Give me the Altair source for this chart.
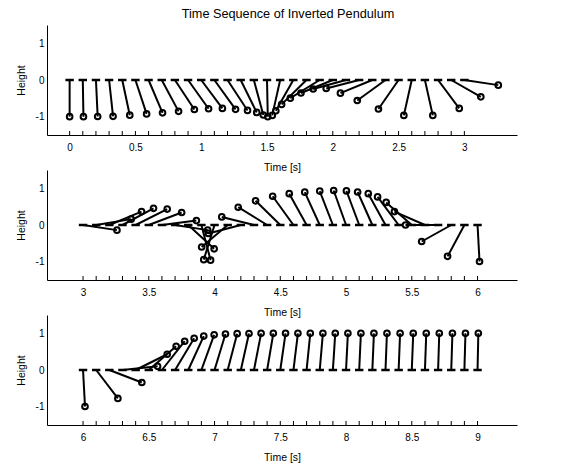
import altair as alt
import pandas as pd

# ---- data ----
# frame times (cart positions on the time axis)
t1 = [0.0, 0.1, 0.2, 0.3, 0.4, 0.5, 0.6, 0.7, 0.8, 0.9, 1.0, 1.1, 1.2, 1.3, 1.4, 1.5,
      1.6, 1.7, 1.8, 1.9, 2.0, 2.1, 2.2, 2.3, 2.4, 2.5, 2.6, 2.7, 2.8, 2.9, 3.0]
bx1 = [0.000, 0.105, 0.213, 0.330, 0.457, 0.585, 0.706, 0.828, 0.948, 1.056, 1.161,
       1.261, 1.352, 1.422, 1.472, 1.506, 1.540, 1.567, 1.611, 1.677, 1.758, 1.851,
       1.950, 2.058, 2.186, 2.347, 2.540, 2.760, 2.961, 3.125, 3.258]
by1 = [-1.0, -1.0, -0.995, -0.99, -0.96, -0.925, -0.895, -0.855, -0.805, -0.785,
       -0.775, -0.80, -0.83, -0.885, -0.955, -1.0, -0.965, -0.84, -0.665, -0.495,
       -0.355, -0.245, -0.23, -0.36, -0.56, -0.79, -0.965, -0.965, -0.775, -0.46, -0.14]

t2 = [3.0, 3.1, 3.2, 3.3, 3.4, 3.5, 3.6, 3.7, 3.8, 3.9, 4.0, 4.1, 4.2, 4.3, 4.4, 4.5,
      4.6, 4.7, 4.8, 4.9, 5.0, 5.1, 5.2, 5.3, 5.4, 5.5, 5.6, 5.7, 5.8, 5.9, 6.0]
bx2 = [3.258, 3.366, 3.445, 3.536, 3.640, 3.750, 3.862, 3.948, 3.997, 3.970, 3.918,
       3.902, 3.953, 4.055, 4.180, 4.312, 4.442, 4.568, 4.686, 4.800, 4.906, 5.003,
       5.088, 5.169, 5.240, 5.305, 5.368, 5.452, 5.575, 5.772, 6.015]
by2 = [-0.14, 0.16, 0.365, 0.455, 0.435, 0.34, 0.12, -0.14, -0.65, -0.96, -0.945,
       -0.60, -0.23, 0.22, 0.485, 0.66, 0.785, 0.855, 0.895, 0.925, 0.94, 0.93, 0.90,
       0.855, 0.765, 0.615, 0.365, 0.0, -0.45, -0.855, -0.995]

t3 = [6.0, 6.1, 6.2, 6.3, 6.4, 6.5, 6.6, 6.7, 6.8, 6.9, 7.0, 7.1, 7.2, 7.3, 7.4, 7.5,
      7.6, 7.7, 7.8, 7.9, 8.0, 8.1, 8.2, 8.3, 8.4, 8.5, 8.6, 8.7, 8.8, 8.9, 9.0]
bx3 = [6.015, 6.265, 6.447, 6.567, 6.640, 6.708, 6.773, 6.845, 6.918, 6.997, 7.083,
       7.172, 7.262, 7.354, 7.447, 7.540, 7.634, 7.728, 7.824, 7.918, 8.014, 8.113,
       8.212, 8.311, 8.411, 8.511, 8.610, 8.709, 8.809, 8.908, 9.006]
by3 = [-0.995, -0.775, -0.34, 0.10, 0.43, 0.645, 0.785, 0.865, 0.925, 0.96, 0.98,
       0.99, 0.995, 1.0, 1.0, 1.0, 1.0, 1.0, 1.0, 1.0, 1.0, 1.0, 1.0, 1.0, 1.0, 1.0,
       1.0, 1.0, 1.0, 1.0, 1.0]

xlabels1 = [0, 0.5, 1, 1.5, 2, 2.5, 3]
xlabels2 = [3, 3.5, 4, 4.5, 5, 5.5, 6]
xlabels3 = [6, 6.5, 7, 7.5, 8, 8.5, 9]
ylabels = [-1, 0, 1]

xdom1 = [-0.172, 3.40]
xdom2 = [2.726, 6.30]
xdom3 = [5.726, 9.30]
ydom = [-1.5, 1.5]

FONT = "Liberation Sans"
W, H = 470, 110


def panel(t, bx, by, xdom, xlabels):
    df = pd.DataFrame({"t": t, "bx": bx, "by": by})
    xs = alt.Scale(domain=xdom, nice=False, zero=False)
    ys = alt.Scale(domain=ydom, nice=False, zero=False)
    xax = alt.Axis(values=xlabels, labelExpr="'' + datum.value", title="Time [s]",
                   ticks=False, tickSize=0, labelPadding=7, titleY=27,
                   titleBaseline="top", grid=False)
    yax = alt.Axis(values=ylabels, labelExpr="'' + datum.value", title="Height",
                   ticks=False, tickSize=0, labelPadding=3, titleX=-21,
                   titleBaseline="bottom", grid=False)
    base = alt.Chart(df).transform_calculate(
        cy="0", lo="datum.t - 0.032", hi="datum.t + 0.032"
    )
    ticks = base.mark_rule(color="black", strokeWidth=1).encode(
        x=alt.X("t:Q", scale=xs, axis=xax),
        y=alt.value(H),
        y2=alt.value(H - 4),
    )
    dashes = base.mark_rule(color="black", strokeWidth=2.5).encode(
        x=alt.X("lo:Q", scale=xs, axis=xax),
        x2="hi:Q",
        y=alt.Y("cy:Q", scale=ys, axis=yax),
    )
    rods = base.mark_rule(color="black", strokeWidth=2).encode(
        x=alt.X("t:Q", scale=xs, axis=xax),
        x2="bx:Q",
        y=alt.Y("cy:Q", scale=ys, axis=yax),
        y2="by:Q",
    )
    bobs = base.mark_point(shape="circle", filled=False, size=32, strokeWidth=2,
                           color="black", opacity=1).encode(
        x=alt.X("bx:Q", scale=xs, axis=xax),
        y=alt.Y("by:Q", scale=ys, axis=yax),
    )
    return alt.layer(ticks, dashes, rods, bobs).properties(width=W, height=H)


chart = alt.vconcat(
    panel(t1, bx1, by1, xdom1, xlabels1),
    panel(t2, bx2, by2, xdom2, xlabels2),
    panel(t3, bx3, by3, xdom3, xlabels3),
    spacing=35,
    bounds="flush",
).properties(
    title=alt.TitleParams("Time Sequence of Inverted Pendulum", fontSize=12.7,
                          font=FONT, fontWeight="normal", color="black",
                          anchor="middle", frame="group", offset=4, dx=6),
    padding={"left": 8, "top": 0, "right": 5, "bottom": 0},
).configure_view(stroke=None).configure_axis(
    domainColor="black", domainWidth=1, labelColor="black", titleColor="black",
    labelFont=FONT, titleFont=FONT, labelFontSize=10, titleFontSize=10.5,
    titleFontWeight="normal",
)

chart.save("out.html", embed_options={"renderer": "svg", "actions": False})
